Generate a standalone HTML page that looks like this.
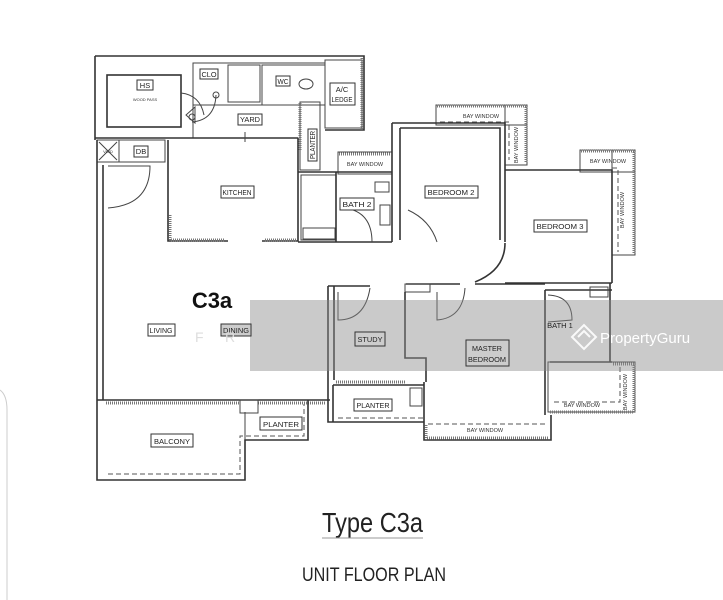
<!DOCTYPE html>
<html><head><meta charset="utf-8"><style>
html,body{margin:0;padding:0;background:#fff;}
body{width:723px;height:600px;overflow:hidden;position:relative;font-family:"Liberation Sans",sans-serif;}
svg{position:absolute;left:0;top:0;}
.w{fill:none;stroke:#333;stroke-width:1.6;}
.t{fill:none;stroke:#444;stroke-width:1;}
.d{fill:none;stroke:#555;stroke-width:1;stroke-dasharray:5,3;}
.h{fill:none;stroke:#777;stroke-width:3;stroke-dasharray:1,1;}
.lb{fill:#fff;stroke:#333;stroke-width:1;}
text.l{font-family:"Liberation Sans",sans-serif;font-size:7.5px;fill:#222;text-anchor:middle;}
text.s{font-family:"Liberation Sans",sans-serif;font-size:5.5px;fill:#333;text-anchor:middle;}
</style></head><body>
<svg width="723" height="600" viewBox="0 0 723 600">
<path d="M0,390 Q7,395 7,410 L7,600" fill="none" stroke="#ccc" stroke-width="1"/>

<path class="w" d="M95,56 H364 V130 H325 M95,56 V140"/>
<rect class="w" x="107" y="75" width="74" height="52"/>
<rect class="t" x="193" y="63" width="132" height="42"/>
<line class="t" x1="193" y1="63" x2="193" y2="138"/>
<rect class="t" x="228" y="65" width="32" height="37"/>
<rect class="t" x="262" y="65" width="63" height="40"/>
<ellipse class="t" cx="306" cy="84" rx="7" ry="5"/>
<path class="t" d="M181,93 Q200,95 204,115 M186,115 L195,107 L195,123 Z"/>
<circle class="t" cx="192" cy="117" r="3"/>
<circle class="t" cx="216" cy="95" r="3"/>
<path class="t" d="M216,95 Q215,120 192,122"/>
<rect class="t" x="325" y="60" width="37" height="68"/>
<path class="h" d="M362,58 V130"/>
<path class="w" d="M95,138 H298"/>
<line class="t" x1="245" y1="132" x2="245" y2="142"/>
<rect class="t" x="300" y="102" width="20" height="68"/>
<path class="h" d="M300,103 V150"/>
<rect class="t" x="97" y="140" width="22" height="22"/>
<path class="t" d="M99,142 L117,160 M117,142 L99,160"/>
<rect class="t" x="119" y="140" width="46" height="22"/>
<path class="w" d="M97,140 V400"/>
<path class="w" d="M103,165 V400"/>
<path class="t" d="M108,166 H150 Q150,205 108,208"/>
<path class="w" d="M168,140 V241 H228 M262,241 H298 V138"/>
<path class="h" d="M170,215 V240 H225"/>
<path class="h" d="M265,240 H296"/>
<rect class="t" x="338" y="152" width="54" height="22"/>
<path class="h" d="M339,154 H391"/>
<path class="w" d="M298,172 H392"/>
<rect class="t" x="301" y="175" width="35" height="65"/>
<rect class="t" x="303" y="228" width="32" height="11"/>
<path class="w" d="M336,172 V242 M298,242 H392"/>
<path class="t" d="M345,208 Q372,212 372,242"/>
<rect class="t" x="375" y="182" width="14" height="10"/>
<rect class="t" x="380" y="205" width="10" height="20"/>
<rect class="t" x="436" y="105" width="91" height="20"/>
<rect class="t" x="505" y="105" width="22" height="60"/>
<path class="h" d="M437,106 H526 V163"/>
<path class="d" d="M440,122 H509 V160"/>
<path class="w" d="M392,123 H505 V242 M392,123 V242 M400,128 H500 V240 M400,128 V240"/>
<path class="t" d="M408,210 Q430,220 437,242"/>
<rect class="t" x="580" y="150" width="55" height="22"/>
<rect class="t" x="612" y="150" width="23" height="105"/>
<path class="h" d="M581,151 H634 V254"/>
<path class="d" d="M612,168 H618 V252"/>
<path class="w" d="M505,170 H612 V283 M505,283 H612"/>
<path class="w" d="M475,282 Q505,270 505,243"/>
<path class="w" d="M328,286 H370 M406,284 H460 M475,284 H545 M545,290 H612 M610,283 V362"/>
<rect class="t" x="405" y="284" width="25" height="8"/>
<path class="t" d="M338,292 V320 Q365,320 370,288"/>
<path class="t" d="M437,292 V320 Q463,318 465,288"/>
<path class="w" d="M328,286 V422 H424 M334,286 V380"/>
<path class="w" d="M405,292 V358 H426 V382"/>
<path class="h" d="M336,382 H405"/>
<path class="w" d="M333,385 H424 M333,385 V422"/>
<rect class="t" x="410" y="388" width="12" height="18"/>
<path class="d" d="M338,418 H424"/>
<path class="w" d="M424,382 V440 H551 V415 M545,290 V415"/>
<path class="d" d="M428,424 H545"/>
<path class="h" d="M426,425 V438 H549"/>
<path class="t" d="M548,295 Q572,296 572,320 L548,322"/>
<path class="w" d="M550,362 H612"/>
<rect class="t" x="590" y="287" width="18" height="10"/>
<rect class="t" x="548" y="362" width="87" height="50"/>
<path class="h" d="M613,364 H634 V412 H550"/>
<path class="d" d="M554,402 H620 V365"/>
<path class="w" d="M97,400 H330"/>
<path class="h" d="M106,403 H240 M258,403 H325"/>
<rect class="t" x="240" y="400" width="18" height="13"/>
<path class="w" d="M97,400 V480 H245 V440 H308 V400"/>
<path class="d" d="M108,474 H240 V436 H304 V404"/>
<path class="t" d="M245,412 V440"/>

<rect x="250" y="300" width="473" height="71" fill="#8a8a8a" opacity="0.45"/>

<g>
<rect class="lb" x="137" y="80" width="16" height="10"/><text class="l" x="145" y="88">HS</text>
<text class="s" x="145" y="101" style="font-size:4px">WOOD PASS</text>
<rect class="lb" x="200" y="69" width="18" height="10"/><text class="l" x="209" y="77" textLength="15" lengthAdjust="spacingAndGlyphs">CLO</text>
<rect class="lb" x="276" y="76" width="14" height="10"/><text class="l" x="283" y="84" textLength="11" lengthAdjust="spacingAndGlyphs">WC</text>
<rect class="lb" x="330" y="83" width="25" height="22"/><text class="l" x="342" y="92">A/C</text><text class="l" x="342" y="102" textLength="21" lengthAdjust="spacingAndGlyphs">LEDGE</text>
<rect class="lb" x="238" y="114" width="24" height="11"/><text class="l" x="250" y="122" textLength="20" lengthAdjust="spacingAndGlyphs">YARD</text>
<rect class="lb" x="134" y="146" width="14" height="11"/><text class="l" x="141" y="154">DB</text>
<text class="s" x="108" y="153" style="font-size:4px">VOID</text>
<rect class="lb" x="221" y="186" width="33" height="12"/><text class="l" x="237" y="195" textLength="29" lengthAdjust="spacingAndGlyphs">KITCHEN</text>
<rect class="lb" x="308" y="129" width="9" height="32"/><text class="l" transform="translate(315,145) rotate(-90)" textLength="28" lengthAdjust="spacingAndGlyphs">PLANTER</text>
<text class="s" x="365" y="166">BAY WINDOW</text>
<text class="s" x="481" y="118">BAY WINDOW</text>
<text class="s" transform="translate(518,145) rotate(-90)">BAY WINDOW</text>
<rect class="lb" x="340" y="198" width="34" height="12"/><text class="l" x="357" y="207" textLength="29" lengthAdjust="spacingAndGlyphs">BATH 2</text>
<rect class="lb" x="425" y="186" width="53" height="12"/><text class="l" x="451" y="195" textLength="47" lengthAdjust="spacingAndGlyphs">BEDROOM 2</text>
<text class="s" x="608" y="163">BAY WINDOW</text>
<text class="s" transform="translate(624,210) rotate(-90)">BAY WINDOW</text>
<rect class="lb" x="534" y="220" width="53" height="12"/><text class="l" x="560" y="229" textLength="47" lengthAdjust="spacingAndGlyphs">BEDROOM 3</text>
<text x="212" y="308" font-family="Liberation Sans" font-size="22" font-weight="bold" text-anchor="middle" fill="#111">C3a</text>
<rect class="lb" x="148" y="324" width="27" height="12"/><text class="l" x="161" y="333" textLength="23" lengthAdjust="spacingAndGlyphs">LIVING</text>
<rect x="221" y="324" width="30" height="12" fill="#ccc" stroke="#333"/><text class="l" x="236" y="333" textLength="26" lengthAdjust="spacingAndGlyphs">DINING</text>
<text x="195" y="342" font-family="Liberation Sans" font-size="14" fill="#ddd">F</text>
<text x="225" y="342" font-family="Liberation Sans" font-size="14" fill="#ddd">R</text>
<rect x="355" y="332" width="30" height="14" fill="#ccc" stroke="#333"/><text class="l" x="370" y="342" textLength="25" lengthAdjust="spacingAndGlyphs">STUDY</text>
<rect x="466" y="340" width="43" height="26" fill="#ccc" stroke="#333"/><text class="l" x="487" y="351" textLength="30" lengthAdjust="spacingAndGlyphs">MASTER</text><text class="l" x="487" y="362" textLength="38" lengthAdjust="spacingAndGlyphs">BEDROOM</text>
<text class="l" x="560" y="328">BATH 1</text>
<rect class="lb" x="354" y="399" width="38" height="12"/><text class="l" x="373" y="408" textLength="33" lengthAdjust="spacingAndGlyphs">PLANTER</text>
<rect class="lb" x="260" y="417" width="42" height="13"/><text class="l" x="281" y="427" textLength="36" lengthAdjust="spacingAndGlyphs">PLANTER</text>
<rect class="lb" x="151" y="434" width="42" height="13"/><text class="l" x="172" y="444" textLength="36" lengthAdjust="spacingAndGlyphs">BALCONY</text>
<text class="s" x="485" y="432">BAY WINDOW</text>
<text class="s" x="582" y="407">BAY WINDOW</text>
<text class="s" transform="translate(627,392) rotate(-90)">BAY WINDOW</text>
</g>
<g fill="none" stroke="#fff" stroke-width="2" opacity="0.9">
<path d="M572,337 L584,325 L596,337 L584,349 Z"/><path d="M578,337 L584,331 L590,337"/>
</g>
<text x="600" y="343" font-family="Liberation Sans" font-size="15" fill="#fff">PropertyGuru</text>

<text x="322" y="532" style="font-family:'Liberation Sans',sans-serif;font-size:28px;fill:#222" textLength="101" lengthAdjust="spacingAndGlyphs">Type C3a</text>
<line x1="322" y1="538" x2="423" y2="538" stroke="#999" stroke-width="1"/>
<text x="302" y="581" style="font-family:'Liberation Sans',sans-serif;font-size:19px;fill:#222" textLength="144" lengthAdjust="spacingAndGlyphs">UNIT  FLOOR  PLAN</text>
</svg>
</body></html>
